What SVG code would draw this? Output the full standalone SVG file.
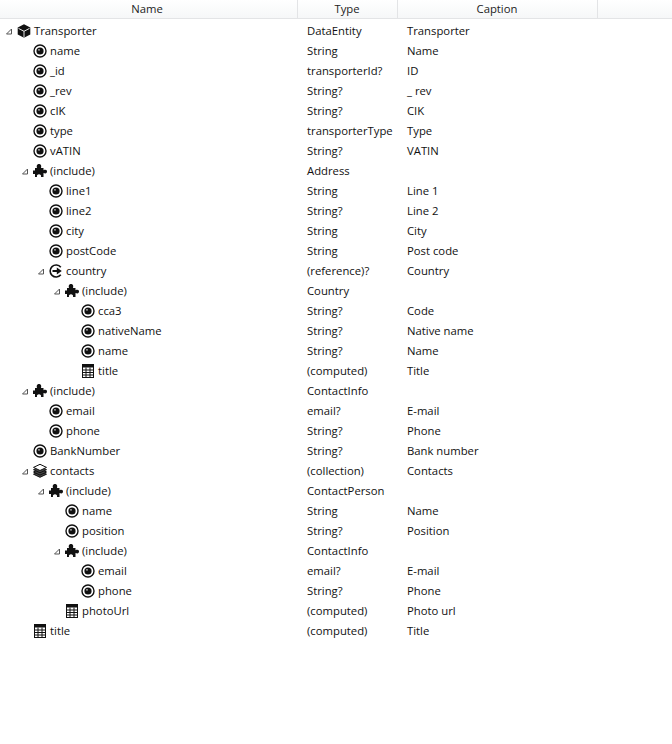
<svg xmlns="http://www.w3.org/2000/svg" width="672" height="744" viewBox="0 0 672 744">
<style>
text{font-family:"Open Sans","Noto Sans","Liberation Sans",sans-serif;font-size:11.3px;fill:#111}
.h{text-anchor:middle;fill:#222}
.t{fill:none;stroke:#555;stroke-width:1}
</style>
<defs>
<linearGradient id="hg" x1="0" y1="0" x2="0" y2="1"><stop offset="0" stop-color="#fff"/><stop offset="1" stop-color="#f6f7f8"/></linearGradient>
<g id="eye"><circle r="6" fill="#fff" stroke="#111" stroke-width="1.4"/><circle r="3.6" fill="#111"/><circle cx="-1" cy="-1.2" r=".9" fill="#bbb"/></g>
<g id="cube"><path d="M0-6.800 6.300-3.400V3.400L0 6.800-6.300 3.400V-3.400Z" fill="#111"/><path d="M-5.500-2.600 0 .3 5.500-2.600M0 .3V6.500" fill="none" stroke="#fff" stroke-width=".9"/></g>
<path id="puz" d="M-5-3H-3C-3.800-6-2.500-7-1-7S1.800-6 1-3H3.500V-.8C6-1.800 7-.8 7 .6S6 3 3.500 2V6H1C1.500 4 .4 3.200-1 3.200S-3.500 4-3 6H-5V3H-7V-.5H-5Z" fill="#111"/>
<g id="ref"><path d="M4.800-3.800A6 6 0 1 0 4.800 3.800" fill="none" stroke="#111" stroke-width="1.6"/><path d="M-3.500-.9H.8V-3.600L5.800 0 .8 3.600V.9H-3.500Z" fill="#111"/></g>
<g id="stack" fill="#444" stroke="#111" stroke-width="1"><path d="M-6.500 3.200 0 6.300 6.500 3.200 0 .1Z"/><path d="M-6.500 1 0 4.100 6.500 1 0-2.100Z"/><path d="M-6.500-1.300 0 1.800 6.500-1.300 0-4.400Z"/><path d="M-6.500-3.600 0-.5 6.500-3.600 0-6.700Z" fill="#fff"/></g>
<g id="calc"><rect x="-5.500" y="-6.500" width="11" height="13" fill="#fff" stroke="#111"/><rect x="-5.500" y="-6.500" width="11" height="3" fill="#111"/><path d="M-5.500-1H5.500M-5.500 1.500H5.500M-5.500 4H5.500M-2-3.500V6.500M2-3.500V6.500" stroke="#111" fill="none"/></g>
<path id="tri" d="M6.500-2V3H1.500Z" class="t"/>
</defs>
<rect width="672" height="744" fill="#fff"/>
<g id="header">
<rect width="672" height="18" fill="url(#hg)"/>
<path d="M0 18.500H672" stroke="#e3e4e6"/>
<path d="M297.500 0V18M397.500 0V18M597.500 0V18" stroke="#e3e4e6"/>
<text class="h" x="147" y="13">Name</text><text class="h" x="347" y="13">Type</text><text class="h" x="497" y="13">Caption</text>
</g>
<g id="connectors"></g>
<g id="r1"><use href="#tri" x="5" y="31"/><use href="#cube" x="24" y="31"/><text x="34" y="35">Transporter</text><text x="307" y="35">DataEntity</text><text x="407" y="35">Transporter</text></g>
<g id="r2"><use href="#eye" x="40" y="51"/><text x="50" y="55">name</text><text x="307" y="55">String</text><text x="407" y="55">Name</text></g>
<g id="r3"><use href="#eye" x="40" y="71"/><text x="50" y="75">_id</text><text x="307" y="75">transporterId?</text><text x="407" y="75">ID</text></g>
<g id="r4"><use href="#eye" x="40" y="91"/><text x="50" y="95">_rev</text><text x="307" y="95">String?</text><text x="407" y="95">_ rev</text></g>
<g id="r5"><use href="#eye" x="40" y="111"/><text x="50" y="115">cIK</text><text x="307" y="115">String?</text><text x="407" y="115">CIK</text></g>
<g id="r6"><use href="#eye" x="40" y="131"/><text x="50" y="135">type</text><text x="307" y="135">transporterType</text><text x="407" y="135">Type</text></g>
<g id="r7"><use href="#eye" x="40" y="151"/><text x="50" y="155">vATIN</text><text x="307" y="155">String?</text><text x="407" y="155">VATIN</text></g>
<g id="r8"><use href="#tri" x="21" y="171"/><use href="#puz" x="40" y="171"/><text x="50" y="175">(include)</text><text x="307" y="175">Address</text></g>
<g id="r9"><use href="#eye" x="56" y="191"/><text x="66" y="195">line1</text><text x="307" y="195">String</text><text x="407" y="195">Line 1</text></g>
<g id="r10"><use href="#eye" x="56" y="211"/><text x="66" y="215">line2</text><text x="307" y="215">String?</text><text x="407" y="215">Line 2</text></g>
<g id="r11"><use href="#eye" x="56" y="231"/><text x="66" y="235">city</text><text x="307" y="235">String</text><text x="407" y="235">City</text></g>
<g id="r12"><use href="#eye" x="56" y="251"/><text x="66" y="255">postCode</text><text x="307" y="255">String</text><text x="407" y="255">Post code</text></g>
<g id="r13"><use href="#tri" x="37" y="271"/><use href="#ref" x="56" y="271"/><text x="66" y="275">country</text><text x="307" y="275">(reference)?</text><text x="407" y="275">Country</text></g>
<g id="r14"><use href="#tri" x="53" y="291"/><use href="#puz" x="72" y="291"/><text x="82" y="295">(include)</text><text x="307" y="295">Country</text></g>
<g id="r15"><use href="#eye" x="88" y="311"/><text x="98" y="315">cca3</text><text x="307" y="315">String?</text><text x="407" y="315">Code</text></g>
<g id="r16"><use href="#eye" x="88" y="331"/><text x="98" y="335">nativeName</text><text x="307" y="335">String?</text><text x="407" y="335">Native name</text></g>
<g id="r17"><use href="#eye" x="88" y="351"/><text x="98" y="355">name</text><text x="307" y="355">String?</text><text x="407" y="355">Name</text></g>
<g id="r18"><use href="#calc" x="88" y="371"/><text x="98" y="375">title</text><text x="307" y="375">(computed)</text><text x="407" y="375">Title</text></g>
<g id="r19"><use href="#tri" x="21" y="391"/><use href="#puz" x="40" y="391"/><text x="50" y="395">(include)</text><text x="307" y="395">ContactInfo</text></g>
<g id="r20"><use href="#eye" x="56" y="411"/><text x="66" y="415">email</text><text x="307" y="415">email?</text><text x="407" y="415">E-mail</text></g>
<g id="r21"><use href="#eye" x="56" y="431"/><text x="66" y="435">phone</text><text x="307" y="435">String?</text><text x="407" y="435">Phone</text></g>
<g id="r22"><use href="#eye" x="40" y="451"/><text x="50" y="455">BankNumber</text><text x="307" y="455">String?</text><text x="407" y="455">Bank number</text></g>
<g id="r23"><use href="#tri" x="21" y="471"/><use href="#stack" x="40" y="471"/><text x="50" y="475">contacts</text><text x="307" y="475">(collection)</text><text x="407" y="475">Contacts</text></g>
<g id="r24"><use href="#tri" x="37" y="491"/><use href="#puz" x="56" y="491"/><text x="66" y="495">(include)</text><text x="307" y="495">ContactPerson</text></g>
<g id="r25"><use href="#eye" x="72" y="511"/><text x="82" y="515">name</text><text x="307" y="515">String</text><text x="407" y="515">Name</text></g>
<g id="r26"><use href="#eye" x="72" y="531"/><text x="82" y="535">position</text><text x="307" y="535">String?</text><text x="407" y="535">Position</text></g>
<g id="r27"><use href="#tri" x="53" y="551"/><use href="#puz" x="72" y="551"/><text x="82" y="555">(include)</text><text x="307" y="555">ContactInfo</text></g>
<g id="r28"><use href="#eye" x="88" y="571"/><text x="98" y="575">email</text><text x="307" y="575">email?</text><text x="407" y="575">E-mail</text></g>
<g id="r29"><use href="#eye" x="88" y="591"/><text x="98" y="595">phone</text><text x="307" y="595">String?</text><text x="407" y="595">Phone</text></g>
<g id="r30"><use href="#calc" x="72" y="611"/><text x="82" y="615">photoUrl</text><text x="307" y="615">(computed)</text><text x="407" y="615">Photo url</text></g>
<g id="r31"><use href="#calc" x="40" y="631"/><text x="50" y="635">title</text><text x="307" y="635">(computed)</text><text x="407" y="635">Title</text></g>
</svg>
